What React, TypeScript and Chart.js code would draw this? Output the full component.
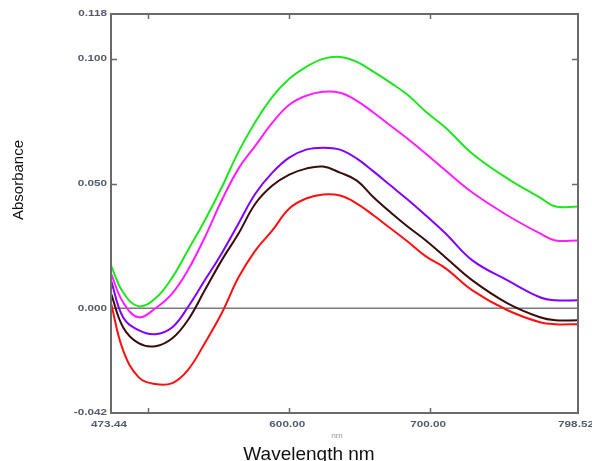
import { useEffect, useRef } from 'react';
import { Chart, registerables } from 'chart.js';

Chart.register(...registerables);

// Wavelength (nm) sample points
const wavelengths = [473.44, 482, 493, 505, 517, 528, 540, 552, 564, 576, 588, 600, 612, 624, 636, 648, 660, 672, 684, 697, 711, 730, 755, 778, 789, 805];

// Absorbance series
const greenSeries = [0.0172, 0.0064, 0.0008, 0.004, 0.0124, 0.0232, 0.0352, 0.0484, 0.0628, 0.0748, 0.0848, 0.092, 0.0968, 0.1, 0.1008, 0.0988, 0.0948, 0.0904, 0.0856, 0.0788, 0.0724, 0.062, 0.052, 0.0444, 0.0408, 0.0408];
const magentaSeries = [0.014, 0.0024, -0.0036, 0, 0.006, 0.0152, 0.0284, 0.0432, 0.056, 0.0652, 0.0744, 0.0816, 0.0852, 0.0868, 0.0864, 0.0832, 0.0784, 0.0732, 0.068, 0.062, 0.0552, 0.0464, 0.0372, 0.03, 0.0272, 0.0272];
const purpleSeries = [0.0112, -0.0036, -0.0088, -0.0104, -0.0076, 0.0004, 0.0112, 0.022, 0.034, 0.046, 0.0544, 0.0604, 0.0636, 0.0644, 0.0636, 0.06, 0.0548, 0.0492, 0.0436, 0.0372, 0.03, 0.0192, 0.0112, 0.0044, 0.0032, 0.0032];
const brownSeries = [0.006, -0.0076, -0.014, -0.0152, -0.012, -0.0048, 0.0072, 0.0192, 0.03, 0.042, 0.0492, 0.0536, 0.056, 0.0568, 0.0544, 0.0512, 0.0444, 0.0384, 0.0328, 0.0272, 0.0204, 0.0112, 0.002, -0.0036, -0.0048, -0.0048];
const redSeries = [0.002, -0.0168, -0.0276, -0.0304, -0.03, -0.0248, -0.014, -0.002, 0.0124, 0.0232, 0.0312, 0.04, 0.044, 0.0456, 0.0452, 0.042, 0.0372, 0.032, 0.0268, 0.0208, 0.016, 0.0072, -0.0008, -0.0056, -0.0064, -0.0064];

// Axis ticks
const xMin = 473.44;
const xMax = 805;
const xTickValues = [473.44, 600, 700, 805];
const xTickLabels = ['473.44', '600.00', '700.00', '798.52'];
const xTickMarks = [500, 600, 700];
const yMin = -0.042;
const yMax = 0.118;
const yTickValues = [0.118, 0.1, 0.05, 0, -0.042];
const yTickLabels = ['0.118', '0.100', '0.050', '0.000', '-0.042'];
const yTickMarks = [0.1, 0.05];

const xTitle = 'Wavelength nm';
const yTitle = 'Absorbance';
const unitLabel = 'nm';

const seriesList = [
  { data: greenSeries, color: '#1ee61e' },
  { data: magentaSeries, color: '#ff1eff' },
  { data: purpleSeries, color: '#8000ff' },
  { data: brownSeries, color: '#3a0c0c' },
  { data: redSeries, color: '#ff1010' },
];

const LABEL_FONT = 'bold 9px "Liberation Sans", Arial, sans-serif';
const LABEL_COLOR = '#555b6c';

function stretchedText(ctx: CanvasRenderingContext2D, text: string, x: number, y: number, align: CanvasTextAlign, sx: number) {
  ctx.save();
  ctx.translate(x, y);
  ctx.scale(sx, 1);
  ctx.textAlign = align;
  ctx.textBaseline = 'middle';
  ctx.fillText(text, 0, 0);
  ctx.restore();
}

const decorPlugin = {
  id: 'decor',
  beforeDatasetsDraw(chart: any) {
    const { ctx, chartArea, scales } = chart;
    const y0 = scales.y.getPixelForValue(0);
    ctx.save();
    ctx.strokeStyle = '#7a7a7a';
    ctx.lineWidth = 1.5;
    ctx.beginPath();
    ctx.moveTo(chartArea.left, y0);
    ctx.lineTo(chartArea.right, y0);
    ctx.stroke();
    ctx.restore();
  },
  afterDatasetsDraw(chart: any) {
    const { ctx, chartArea, scales } = chart;
    const { left, right, top, bottom } = chartArea;
    ctx.save();
    ctx.strokeStyle = '#6a6a6a';
    ctx.lineWidth = 2;
    ctx.strokeRect(left, top, right - left, bottom - top);
    ctx.lineWidth = 1.5;
    ctx.beginPath();
    xTickMarks.forEach((v) => {
      const px = Math.round(scales.x.getPixelForValue(v)) + 0.5;
      ctx.moveTo(px, bottom);
      ctx.lineTo(px, bottom - 5);
      ctx.moveTo(px, top);
      ctx.lineTo(px, top + 5);
    });
    yTickMarks.forEach((v) => {
      const py = Math.round(scales.y.getPixelForValue(v)) + 0.5;
      ctx.moveTo(left, py);
      ctx.lineTo(left + 6, py);
      ctx.moveTo(right, py);
      ctx.lineTo(right - 6, py);
    });
    ctx.stroke();
    ctx.restore();
  },
  afterDraw(chart: any) {
    const { ctx, chartArea, scales } = chart;
    ctx.save();
    ctx.fillStyle = LABEL_COLOR;
    ctx.font = LABEL_FONT;
    yTickValues.forEach((v, i) => {
      const py = scales.y.getPixelForValue(v);
      stretchedText(ctx, yTickLabels[i], chartArea.left - 4, py, 'right', 1.3);
    });
    xTickValues.forEach((v, i) => {
      const px = scales.x.getPixelForValue(v);
      stretchedText(ctx, xTickLabels[i], px - 2, chartArea.bottom + 12, 'center', 1.3);
    });
    ctx.fillStyle = '#9a9a9a';
    ctx.font = '7px "Liberation Sans", Arial, sans-serif';
    stretchedText(ctx, unitLabel, 337, chartArea.bottom + 23, 'center', 1.2);

    ctx.fillStyle = '#111111';
    ctx.font = '19px "Liberation Sans", Arial, sans-serif';
    ctx.textAlign = 'center';
    ctx.textBaseline = 'alphabetic';
    ctx.fillText(xTitle, 309, 460);

    ctx.translate(19, 180);
    ctx.rotate(-Math.PI / 2);
    ctx.font = '15px "Liberation Sans", Arial, sans-serif';
    ctx.textBaseline = 'middle';
    ctx.fillText(yTitle, 0, 0);
    ctx.restore();
  },
};

export default function App() {
  const ref = useRef<HTMLCanvasElement>(null);
  useEffect(() => {
    document.body.style.margin = '0';
    if (!ref.current) return;
    const chart = new Chart(ref.current, {
      type: 'line',
      data: {
        datasets: seriesList.map((s) => ({
          data: wavelengths.map((w, i) => ({ x: w, y: s.data[i] })),
          borderColor: s.color,
          borderWidth: 2,
          pointRadius: 0,
          fill: false,
          tension: 0.4,
        })),
      },
      options: {
        animation: false,
        responsive: false,
        devicePixelRatio: 1,
        layout: { padding: { left: 111, right: 14, top: 14, bottom: 48 } },
        plugins: { legend: { display: false }, tooltip: { enabled: false } },
        scales: {
          x: { type: 'linear', min: xMin, max: xMax, display: false },
          y: { type: 'linear', min: yMin, max: yMax, display: false },
        },
      },
      plugins: [decorPlugin],
    });
    return () => chart.destroy();
  }, []);
  return (
    <div style={{ width: 592, height: 461, background: '#fff' }}>
      <canvas ref={ref} width={592} height={461} style={{ display: 'block' }} />
    </div>
  );
}
